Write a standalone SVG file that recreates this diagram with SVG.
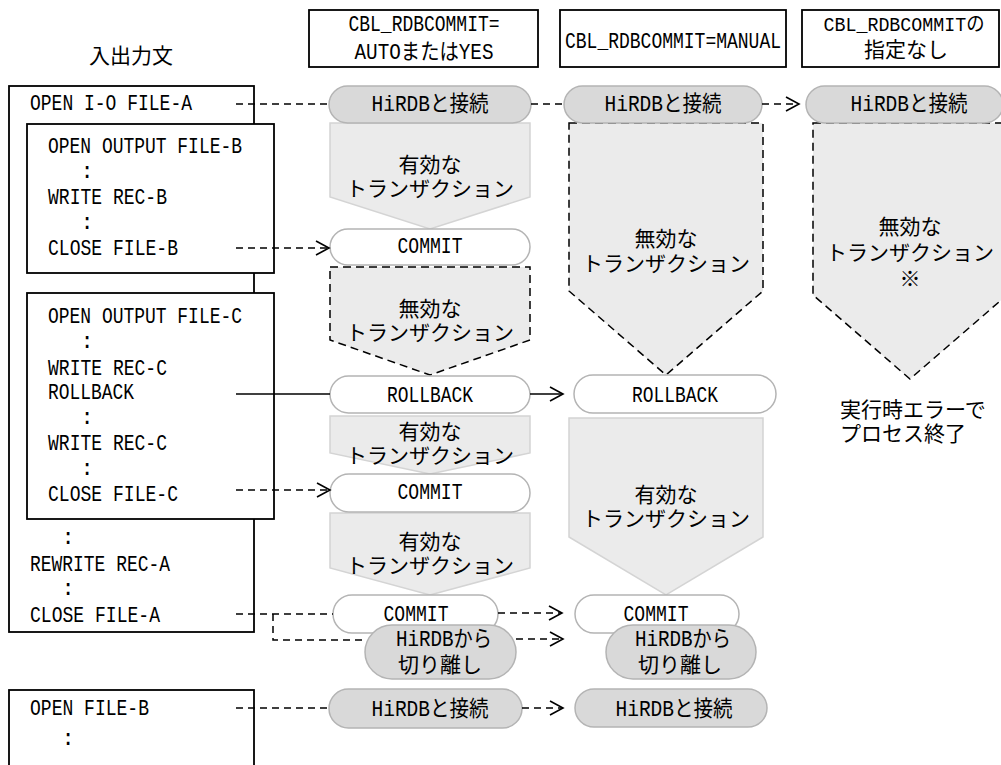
<svg xmlns="http://www.w3.org/2000/svg" width="1001" height="765" viewBox="0 0 1001 765">
<style>
.lt { font-family: "Liberation Mono", "Noto Sans CJK JP", monospace; font-size: 22px; fill: #000; }
.jp { font-family: "Noto Sans CJK JP", sans-serif; font-size: 21px; fill: #000; }
.c { text-anchor: middle; }
.box { fill: #fff; stroke: #000; stroke-width: 1.8; }
.capg { fill: #d9d9d9; stroke: #b4b4b4; stroke-width: 1.5; }
.capw { fill: #fff; stroke: #b4b4b4; stroke-width: 1.5; }
.valid { fill: #ebebeb; stroke: #d4d4d4; stroke-width: 1.5; }
.invalid { fill: #ebebeb; stroke: #000; stroke-width: 1.5; stroke-dasharray: 8 5; }
.dash { fill: none; stroke: #000; stroke-width: 1.5; stroke-dasharray: 7 5; }
.solid { fill: none; stroke: #000; stroke-width: 1.5; }
</style>
<defs>
<marker id="arr" markerUnits="userSpaceOnUse" markerWidth="16" markerHeight="16" refX="13" refY="7" orient="auto" overflow="visible">
<path d="M0,0 L13,7 L0,14" fill="none" stroke="#000" stroke-width="1.6" stroke-dasharray="none"/>
</marker>
</defs>
<rect width="1001" height="765" fill="#fff"/>

<g id="title"><text class="jp c" x="131" y="63">入出力文</text></g>

<g id="hdr-auto"><rect class="box" x="309" y="10" width="229" height="57"/>
<text class="lt c" x="424" y="31" textLength="151" lengthAdjust="spacingAndGlyphs">CBL_RDBCOMMIT=</text>
<text class="lt c" x="424" y="59" textLength="139" lengthAdjust="spacingAndGlyphs">AUTOまたはYES</text></g>
<g id="hdr-manual"><rect class="box" x="560" y="10" width="226" height="57"/>
<text class="lt c" x="673" y="48" textLength="216" lengthAdjust="spacingAndGlyphs">CBL_RDBCOMMIT=MANUAL</text></g>
<g id="hdr-none"><rect class="box" x="802" y="10" width="197" height="57"/>
<text class="lt c" x="904" y="31" style="font-size:20px" textLength="161" lengthAdjust="spacingAndGlyphs">CBL_RDBCOMMITの</text>
<text class="jp c" x="906" y="57">指定なし</text></g>

<g id="box-a"><rect class="box" x="9" y="86" width="245" height="546"/>
<text class="lt" x="30" y="110" textLength="162" lengthAdjust="spacingAndGlyphs">OPEN I-O FILE-A</text>
<text class="lt c" x="68" y="544">:</text>
<text class="lt" x="30" y="571" textLength="140" lengthAdjust="spacingAndGlyphs">REWRITE REC-A</text>
<text class="lt c" x="68" y="595">:</text>
<text class="lt" x="30" y="622" textLength="130" lengthAdjust="spacingAndGlyphs">CLOSE FILE-A</text></g>

<g id="box-b"><rect class="box" x="27" y="124" width="247" height="149"/>
<text class="lt" x="48" y="153" textLength="194" lengthAdjust="spacingAndGlyphs">OPEN OUTPUT FILE-B</text>
<text class="lt c" x="87" y="178">:</text>
<text class="lt" x="48" y="204" textLength="119" lengthAdjust="spacingAndGlyphs">WRITE REC-B</text>
<text class="lt c" x="87" y="229">:</text>
<text class="lt" x="48" y="255" textLength="130" lengthAdjust="spacingAndGlyphs">CLOSE FILE-B</text></g>

<g id="box-c"><rect class="box" x="27" y="293" width="247" height="226"/>
<text class="lt" x="48" y="323" textLength="194" lengthAdjust="spacingAndGlyphs">OPEN OUTPUT FILE-C</text>
<text class="lt c" x="87" y="348">:</text>
<text class="lt" x="48" y="375" textLength="119" lengthAdjust="spacingAndGlyphs">WRITE REC-C</text>
<text class="lt" x="48" y="399" textLength="86" lengthAdjust="spacingAndGlyphs">ROLLBACK</text>
<text class="lt c" x="87" y="424">:</text>
<text class="lt" x="48" y="450" textLength="119" lengthAdjust="spacingAndGlyphs">WRITE REC-C</text>
<text class="lt c" x="87" y="475">:</text>
<text class="lt" x="48" y="501" textLength="130" lengthAdjust="spacingAndGlyphs">CLOSE FILE-C</text></g>

<g id="box-d"><rect class="box" x="9" y="690" width="245" height="90"/>
<text class="lt" x="30" y="715" textLength="119" lengthAdjust="spacingAndGlyphs">OPEN FILE-B</text>
<text class="lt c" x="68" y="745">:</text></g>

<!-- column 1 -->
<g id="c1-valid1"><polygon class="valid" points="330,123 530,123 530,197 430,229 330,197"/>
<text class="jp c"><tspan x="430" y="172">有効な</tspan><tspan x="430" y="196">トランザクション</tspan></text></g>
<g id="c1-invalid"><polygon class="invalid" points="330,267 530,267 530,340 430,375 330,340"/>
<text class="jp c"><tspan x="430" y="316">無効な</tspan><tspan x="430" y="340">トランザクション</tspan></text></g>
<g id="c1-valid2"><polygon class="valid" points="330,416 530,416 530,453 430,474 330,453"/>
<text class="jp c"><tspan x="430" y="439">有効な</tspan><tspan x="430" y="463">トランザクション</tspan></text></g>
<g id="c1-valid3"><polygon class="valid" points="330,513 530,513 530,568 430,595 330,568"/>
<text class="jp c"><tspan x="430" y="549">有効な</tspan><tspan x="430" y="573">トランザクション</tspan></text></g>
<g id="c1-connect"><rect class="capg" x="329" y="86" width="202" height="37" rx="18.5"/>
<text class="lt c" x="430" y="111" textLength="117" lengthAdjust="spacingAndGlyphs">HiRDBと接続</text></g>
<g id="c1-commit1"><rect class="capw" x="330" y="229" width="200" height="36" rx="18"/>
<text class="lt c" x="430" y="253" textLength="65" lengthAdjust="spacingAndGlyphs">COMMIT</text></g>
<g id="c1-rollback"><rect class="capw" x="330" y="376" width="200" height="37" rx="18.5"/>
<text class="lt c" x="430" y="402" textLength="86" lengthAdjust="spacingAndGlyphs">ROLLBACK</text></g>
<g id="c1-commit2"><rect class="capw" x="330" y="474" width="200" height="38" rx="19"/>
<text class="lt c" x="430" y="499" textLength="65" lengthAdjust="spacingAndGlyphs">COMMIT</text></g>
<g id="c1-commit3"><rect class="capw" x="333" y="595" width="165" height="38" rx="19"/>
<text class="lt c" x="416" y="621" textLength="65" lengthAdjust="spacingAndGlyphs">COMMIT</text></g>
<g id="c1-disconnect"><rect class="capg" x="365" y="625" width="151" height="54" rx="27"/>
<text class="lt c"><tspan x="444" y="646" textLength="96" lengthAdjust="spacingAndGlyphs">HiRDBから</tspan><tspan x="440" y="672" class="jp">切り離し</tspan></text></g>
<g id="c1-connect2"><rect class="capg" x="329" y="689" width="193" height="39" rx="19.5"/>
<text class="lt c" x="430" y="716" textLength="117" lengthAdjust="spacingAndGlyphs">HiRDBと接続</text></g>

<!-- column 2 -->
<g id="c2-invalid"><polygon class="invalid" points="569,123 763,123 763,291 666,375 569,291"/>
<text class="jp c"><tspan x="666" y="246">無効な</tspan><tspan x="666" y="271">トランザクション</tspan></text></g>
<g id="c2-valid"><polygon class="valid" points="569,418 763,418 763,537 666,595 569,537"/>
<text class="jp c"><tspan x="666" y="502">有効な</tspan><tspan x="666" y="526">トランザクション</tspan></text></g>
<g id="c2-connect"><rect class="capg" x="564" y="86" width="198" height="37" rx="18.5"/>
<text class="lt c" x="663" y="111" textLength="117" lengthAdjust="spacingAndGlyphs">HiRDBと接続</text></g>
<g id="c2-rollback"><rect class="capw" x="574" y="375" width="202" height="38" rx="19"/>
<text class="lt c" x="675" y="402" textLength="86" lengthAdjust="spacingAndGlyphs">ROLLBACK</text></g>
<g id="c2-commit"><rect class="capw" x="575" y="595" width="164" height="38" rx="19"/>
<text class="lt c" x="656" y="621" textLength="65" lengthAdjust="spacingAndGlyphs">COMMIT</text></g>
<g id="c2-disconnect"><rect class="capg" x="606" y="625" width="150" height="54" rx="27"/>
<text class="lt c"><tspan x="683" y="646" textLength="96" lengthAdjust="spacingAndGlyphs">HiRDBから</tspan><tspan x="680" y="672" class="jp">切り離し</tspan></text></g>
<g id="c2-connect2"><rect class="capg" x="575" y="689" width="192" height="38" rx="19"/>
<text class="lt c" x="674" y="716" textLength="117" lengthAdjust="spacingAndGlyphs">HiRDBと接続</text></g>

<!-- column 3 -->
<g id="c3-invalid"><polygon class="invalid" points="813,123 1007,123 1007,295 910,379 813,295"/>
<text class="jp c"><tspan x="910" y="234">無効な</tspan><tspan x="910" y="260">トランザクション</tspan><tspan x="910" y="286">※</tspan></text></g>
<g id="c3-connect"><rect class="capg" x="806" y="86" width="197" height="37" rx="18.5"/>
<text class="lt c" x="909" y="111" textLength="117" lengthAdjust="spacingAndGlyphs">HiRDBと接続</text></g>
<g id="c3-error"><text class="jp"><tspan x="840" y="417">実行時エラーで</tspan><tspan x="840" y="441">プロセス終了</tspan></text></g>

<g id="connectors">
<line class="dash" x1="236" y1="104" x2="329" y2="104"/>
<line class="dash" x1="531" y1="104" x2="564" y2="104"/>
<line class="dash" x1="762" y1="104" x2="799" y2="104" marker-end="url(#arr)"/>
<line class="dash" x1="236" y1="248" x2="329" y2="248" marker-end="url(#arr)"/>
<line class="solid" x1="236" y1="394" x2="330" y2="394"/>
<line class="solid" x1="530" y1="394" x2="563" y2="394" marker-end="url(#arr)"/>
<line class="dash" x1="236" y1="490" x2="330" y2="490" marker-end="url(#arr)"/>
<line class="dash" x1="236" y1="614" x2="333" y2="614"/>
<polyline class="dash" points="273,614 273,640 366,640"/>
<line class="dash" x1="498" y1="613" x2="562" y2="613" marker-end="url(#arr)"/>
<line class="dash" x1="516" y1="639" x2="563" y2="639" marker-end="url(#arr)"/>
<line class="dash" x1="236" y1="708" x2="329" y2="708"/>
<line class="dash" x1="522" y1="708" x2="563" y2="708" marker-end="url(#arr)"/>
</g>
</svg>
